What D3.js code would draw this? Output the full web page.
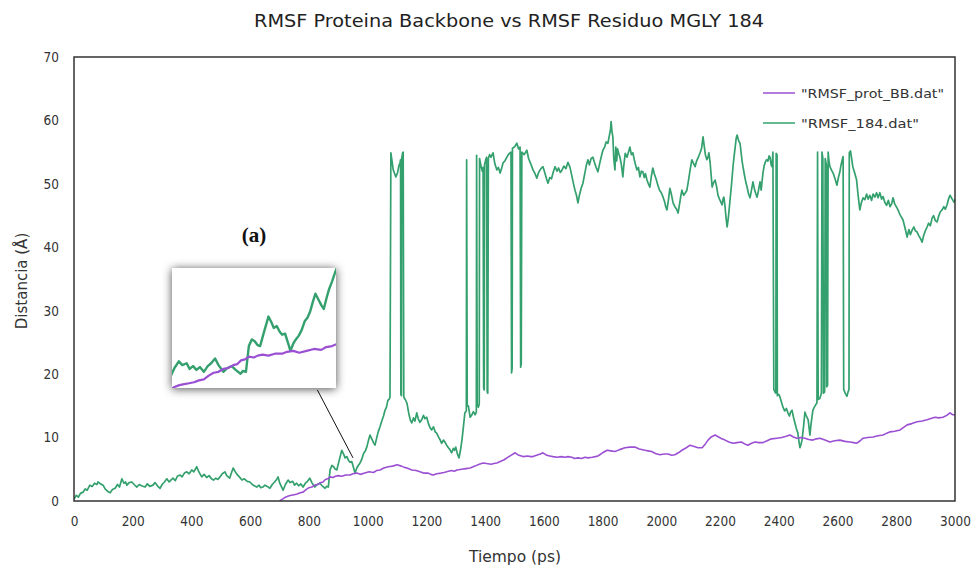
<!DOCTYPE html>
<html>
<head>
<meta charset="utf-8">
<script src="https://cdn.jsdelivr.net/npm/d3@7"></script>
<style>
  html, body { margin: 0; padding: 0; background: #fff; }
  svg { display: block; }
  .tick text { font-family: "DejaVu Sans Condensed", "DejaVu Sans", sans-serif; font-size: 13.5px; fill: #333; }
</style>
</head>
<body>
<svg id="chart" width="974" height="568"></svg>
<script>
// Tick labels
const xTicks = [0, 200, 400, 600, 800, 1000, 1200, 1400, 1600, 1800, 2000, 2200, 2400, 2600, 2800, 3000];
const yTicks = [0, 10, 20, 30, 40, 50, 60, 70];

// Series names
const seriesNames = ['"RMSF_prot_BB.dat"', '"RMSF_184.dat"'];

// RMSF of residue MGLY 184: [time (ps), distance (Å)]
const rmsf184 = [
  [0,0.3],[8,0.9],[15,0.6],[22,1.2],[31,1.4],[38,1.9],[45,1.7],[54,2.5],[62,2.3],[70,2.8],[78,2.6],[82,3.0],[90,2.7],[99,2.5],
  [106,1.9],[115,1.5],[123,1.3],[131,1.8],[140,2.0],[148,2.6],[155,2.2],[163,3.5],[170,2.8],[176,3.0],[180,2.5],[188,2.9],
  [197,3.0],[205,2.6],[214,2.2],[222,2.6],[230,2.4],[242,2.2],[250,2.7],[258,2.3],[269,2.5],[276,2.9],[284,2.4],[293,2.0],
  [300,2.6],[308,3.0],[316,3.5],[324,3.0],[330,3.3],[337,3.6],[345,3.2],[352,3.9],[361,4.1],[368,3.8],[376,4.4],[384,4.6],
  [392,4.3],[401,4.9],[408,4.6],[418,5.4],[424,4.7],[430,4.2],[435,3.8],[443,4.2],[452,3.7],[460,4.0],[468,3.5],[475,3.3],
  [483,3.6],[490,3.4],[497,3.8],[505,4.3],[514,4.6],[520,4.0],[530,3.6],[536,4.4],[542,5.2],[548,4.7],[555,4.2],[563,3.8],
  [572,3.3],[580,3.5],[590,3.1],[599,3.0],[607,2.6],[614,2.4],[622,2.2],[630,2.5],[636,2.1],[643,2.2],[650,2.5],[658,2.3],
  [667,2.0],[675,2.6],[683,3.0],[690,3.4],[695,3.8],[700,2.9],[706,2.3],[712,1.7],[720,2.6],[729,3.3],[736,2.9],[745,3.1],
  [751,2.5],[758,2.8],[765,2.4],[772,2.7],[780,2.2],[788,2.8],[795,3.1],[803,3.6],[810,2.9],[820,2.2],[828,2.6],[837,2.8],
  [845,2.4],[855,2.0],[860,2.3],[866,2.2],
  [872,4.9],[878,5.6],[884,5.4],[890,5.0],[895,4.9],[903,6.4],[912,8.0],[918,7.4],[923,6.8],[929,7.0],[935,6.4],[940,6.1],
  [946,6.2],[951,5.4],[957,4.4],[963,5.2],[968,5.6],[974,6.0],[980,6.6],[986,7.5],[992,7.9],[997,8.5],[1003,9.6],[1008,10.4],
  [1014,9.8],[1020,9.2],[1025,8.8],[1031,10.0],[1036,10.9],[1042,11.7],[1048,12.6],[1054,13.4],[1059,14.3],[1064,14.8],
  [1069,15.9],[1073,16.0],[1076,16.4],
  [1079,54.9],[1083,53.6],[1087,52.2],[1092,51.6],[1096,51.1],[1102,51.8],[1106,52.8],[1110,53.3],[1112,53.8],[1113,16.8],
  [1115,16.6],[1116,54.0],[1119,54.9],[1121,55.0],[1123,16.4],
  [1128,16.0],[1134,15.4],[1140,13.8],[1145,12.8],[1150,12.3],[1156,13.1],[1161,12.6],[1167,13.9],[1172,13.0],[1178,12.4],
  [1184,12.8],[1190,13.5],[1195,13.0],[1201,13.2],[1207,12.2],[1212,11.6],[1218,11.2],[1224,11.7],[1230,10.9],[1235,10.7],
  [1241,10.1],[1246,9.7],[1252,9.1],[1258,9.6],[1263,9.3],[1269,8.8],[1275,8.4],[1280,8.1],[1286,7.6],[1292,8.3],[1296,8.0],
  [1300,8.5],[1305,7.5],[1311,6.8],[1316,8.0],[1321,9.6],[1326,11.7],[1331,13.9],
  [1336,14.2],[1337,53.8],[1339,15.0],[1343,15.0],[1349,13.2],[1355,13.6],[1360,14.1],[1366,13.6],[1370,14.0],[1371,54.5],
  [1373,15.2],[1377,14.8],[1380,15.3],[1381,54.0],[1386,52.8],[1390,52.0],[1393,52.6],[1395,17.8],[1397,17.5],[1398,53.0],
  [1402,53.8],[1405,54.2],[1407,17.2],[1409,17.0],[1411,54.0],[1415,54.6],[1420,54.2],[1427,54.9],[1433,53.2],[1440,52.2],
  [1445,52.6],[1451,51.7],[1456,52.4],[1461,53.3],[1467,53.6],[1474,54.2],[1479,54.6],[1485,54.9],[1488,55.0],[1490,20.2],
  [1492,21.0],[1493,55.6],[1500,55.8],[1508,56.4],[1514,55.5],[1519,55.8],[1521,21.1],[1523,21.6],[1525,55.0],[1533,54.6],
  [1542,55.3],[1548,54.0],[1555,53.2],[1563,52.2],[1570,51.6],[1576,50.9],[1582,51.8],[1590,52.4],[1597,52.7],[1603,51.8],
  [1609,50.8],[1614,50.1],[1620,51.0],[1626,50.8],[1631,51.7],[1638,52.7],[1645,52.0],[1650,52.5],[1656,51.8],[1662,52.2],
  [1668,52.8],[1675,52.4],[1682,53.4],[1689,52.6],[1696,51.1],[1701,50.0],[1706,49.0],[1711,48.2],[1716,47.0],[1722,48.4],
  [1727,49.3],[1733,50.1],[1740,51.8],[1745,53.0],[1750,53.8],[1755,53.0],[1761,54.0],[1767,54.2],[1772,53.4],[1778,52.6],
  [1784,51.9],[1790,53.2],[1796,54.4],[1801,55.3],[1807,55.8],[1812,56.6],[1818,56.4],[1823,57.6],[1827,58.6],[1829,59.8],
  [1832,58.2],[1835,57.4],[1838,54.0],[1842,52.2],[1845,55.8],[1848,53.6],[1851,55.5],[1855,54.8],[1859,54.2],[1864,53.0],
  [1869,51.1],[1872,52.8],[1877,54.8],[1883,54.2],[1888,55.0],[1893,55.8],[1898,54.6],[1903,54.9],[1908,53.8],[1912,53.0],
  [1917,52.2],[1922,52.6],[1927,51.1],[1932,52.0],[1937,51.9],[1942,51.0],[1946,51.6],[1951,50.6],[1956,50.0],[1961,49.5],
  [1966,51.2],[1971,52.5],[1976,51.6],[1982,50.8],[1988,49.8],[1994,49.0],[2000,48.6],[2006,47.9],[2011,47.2],[2015,46.4],
  [2019,45.9],[2024,47.4],[2029,49.3],[2034,48.4],[2040,47.0],[2046,46.4],[2052,46.0],[2057,45.4],[2062,46.8],[2066,48.0],
  [2070,49.0],[2076,48.2],[2082,48.6],[2087,49.0],[2092,50.4],[2098,52.2],[2104,53.8],[2110,53.2],[2115,52.7],[2120,53.6],
  [2126,54.2],[2132,54.9],[2137,55.6],[2142,57.4],[2146,56.0],[2150,54.6],[2155,53.8],[2159,54.2],[2162,54.9],[2166,53.4],
  [2170,51.2],[2173,49.5],[2178,50.2],[2183,50.6],[2188,49.6],[2193,48.2],[2198,47.6],[2202,47.2],[2207,46.7],[2210,47.6],
  [2213,47.9],[2217,46.4],[2220,44.8],[2224,43.2],[2228,44.6],[2231,46.0],[2234,47.5],[2238,49.4],[2241,51.0],[2244,52.7],
  [2248,54.4],[2252,56.0],[2255,57.2],[2258,57.7],[2262,57.0],[2265,56.6],[2268,56.4],[2272,54.8],[2275,53.6],[2278,52.7],
  [2283,51.4],[2288,50.2],[2292,49.5],[2297,48.4],[2302,47.8],[2307,49.0],[2312,50.3],[2317,49.2],[2322,48.4],[2326,47.9],
  [2331,49.0],[2336,50.3],[2340,49.0],[2346,51.7],[2350,52.8],[2353,53.3],[2358,53.8],[2363,53.6],[2367,54.4],[2370,54.2],
  [2374,53.0],[2377,52.7],[2380,55.0],[2383,17.6],[2387,17.2],[2390,17.0],[2391,54.8],[2394,54.6],[2395,16.6],
  [2400,16.8],[2404,16.4],[2409,15.6],[2414,14.8],[2420,14.2],[2426,14.6],[2431,13.9],[2436,13.4],[2440,14.0],[2445,14.3],
  [2450,13.2],[2455,12.3],[2460,11.4],[2465,10.7],[2468,9.6],[2472,8.4],[2476,9.0],[2479,9.6],[2484,11.6],[2489,14.0],
  [2494,13.4],[2500,12.8],[2503,11.6],[2506,10.4],[2510,12.2],[2516,14.3],[2521,14.8],[2526,15.2],[2530,15.5],[2532,55.0],
  [2534,16.0],[2540,16.2],[2545,17.0],[2547,55.0],[2550,54.0],[2552,17.0],[2556,17.2],[2558,54.0],[2562,53.0],[2563,18.0],
  [2566,18.2],[2568,55.0],[2571,53.6],[2574,52.7],[2579,52.2],[2585,51.7],[2590,51.0],[2594,50.4],[2598,49.8],[2603,51.0],
  [2608,51.9],[2612,53.0],[2617,54.0],[2619,54.3],[2621,17.6],[2626,17.0],[2632,16.5],[2636,17.2],[2639,17.6],[2640,54.9],
  [2644,55.2],[2648,54.0],[2652,52.7],[2658,51.8],[2665,50.6],[2670,48.2],[2676,45.9],[2681,47.0],[2687,47.8],[2693,47.5],
  [2699,48.4],[2704,47.6],[2710,48.2],[2716,47.4],[2721,48.4],[2727,47.9],[2733,48.6],[2738,47.8],[2744,48.6],[2750,47.6],
  [2755,48.0],[2761,47.1],[2767,46.6],[2773,47.4],[2779,46.4],[2784,46.8],[2789,47.8],[2795,46.8],[2800,46.4],[2806,45.9],
  [2812,45.2],[2817,44.8],[2823,44.3],[2828,43.4],[2833,42.4],[2837,41.6],[2843,42.8],[2848,42.0],[2854,42.7],[2860,43.2],
  [2865,42.6],[2871,42.4],[2877,41.8],[2882,41.4],[2888,40.8],[2893,41.8],[2899,42.6],[2905,43.2],[2910,43.8],[2916,43.4],
  [2922,44.6],[2927,45.0],[2933,44.2],[2939,44.0],[2945,45.0],[2950,45.6],[2956,45.9],[2962,46.4],[2967,46.0],[2973,46.7],
  [2978,47.6],[2983,48.2],[2988,47.8],[2993,47.4],[2997,47.1],[3000,47.6]
];

// RMSF of the protein backbone: [time (ps), distance (Å)]
const rmsfProtBB = [
  [700,0.0],[710,0.3],[720,0.6],[730,0.8],[740,0.9],[750,1.0],[760,1.1],[770,1.3],[780,1.4],[790,1.8],[800,2.1],[810,2.2],
  [820,2.5],[830,2.6],[840,2.9],[848,3.0],[856,3.4],[864,3.5],[872,3.8],[882,3.7],[890,3.9],[900,4.0],[912,3.9],[925,4.1],
  [940,4.1],[950,4.3],[963,4.4],[975,4.2],[990,4.4],[1005,4.6],[1020,4.5],[1030,4.8],[1042,4.9],[1055,5.2],[1070,5.4],
  [1085,5.5],[1100,5.7],[1115,5.5],[1125,5.3],[1134,5.2],[1150,4.9],[1165,4.8],[1178,4.6],[1190,4.4],[1205,4.4],[1215,4.2],
  [1223,4.1],[1235,4.3],[1250,4.4],[1260,4.5],[1269,4.6],[1285,4.8],[1295,4.7],[1304,4.9],[1320,5.0],[1335,5.1],[1349,5.2],
  [1365,5.5],[1380,5.8],[1393,6.0],[1405,5.9],[1420,5.8],[1430,5.9],[1440,6.0],[1455,6.3],[1465,6.5],[1474,6.8],[1488,7.2],
  [1502,7.6],[1515,7.2],[1529,7.0],[1545,7.1],[1555,7.0],[1563,7.0],[1575,7.2],[1588,7.4],[1597,7.6],[1610,7.2],[1620,7.1],
  [1631,7.0],[1645,6.9],[1660,7.0],[1672,6.9],[1682,7.0],[1695,6.9],[1705,6.7],[1716,6.8],[1728,6.7],[1740,6.9],[1750,6.8],
  [1765,6.9],[1775,7.0],[1784,7.1],[1800,7.6],[1815,8.0],[1828,7.9],[1842,7.8],[1858,8.1],[1876,8.4],[1892,8.5],[1910,8.5],
  [1925,8.2],[1944,8.0],[1955,7.9],[1967,7.8],[1980,7.5],[1995,7.3],[2010,7.4],[2023,7.4],[2035,7.2],[2046,7.3],[2058,7.6],
  [2070,8.0],[2085,8.4],[2098,8.8],[2112,8.6],[2125,8.4],[2139,8.4],[2150,9.0],[2159,9.6],[2170,10.1],[2183,10.4],[2195,10.1],
  [2206,9.8],[2217,9.6],[2230,9.3],[2244,9.1],[2258,9.2],[2272,9.3],[2284,9.0],[2295,8.8],[2307,9.1],[2319,9.3],[2332,9.2],
  [2346,9.2],[2360,9.5],[2375,9.8],[2394,9.9],[2410,10.0],[2425,10.2],[2438,10.4],[2450,10.1],[2461,9.9],[2475,10.0],
  [2489,9.9],[2502,9.7],[2516,9.6],[2528,9.8],[2540,9.9],[2557,9.6],[2574,9.3],[2590,9.5],[2608,9.6],[2625,9.4],[2642,9.3],
  [2655,9.2],[2665,9.1],[2677,9.5],[2687,9.9],[2703,10.0],[2721,10.1],[2738,10.3],[2755,10.4],[2768,10.7],[2779,10.9],
  [2795,11.0],[2813,11.2],[2825,11.6],[2837,12.0],[2853,12.2],[2871,12.5],[2888,12.6],[2905,12.8],[2918,13.0],[2932,13.2],
  [2945,13.1],[2959,13.2],[2972,13.5],[2983,13.9],[2992,13.6],[3000,13.6]
];

// Zoomed window shown in the inset panel
const insetTime = [715, 1050];
const insetDist = [0.5, 13.1];
// Point the inset refers to
const insetTarget = [950, 6.8];

const colorProt = "#9b50d3";
const colorRes = "#33a06d";

const svg = d3.select("#chart");
const W = 974, H = 568;
const plot = { left: 74, right: 955, top: 57, bottom: 501 };
const sans = "'DejaVu Sans', sans-serif";

svg.append("rect").attr("width", W).attr("height", H).attr("fill", "#fff");

const x = d3.scaleLinear().domain([0, 3000]).range([plot.left, plot.right]);
const y = d3.scaleLinear().domain([0, 70]).range([plot.bottom, plot.top]);

const defs = svg.append("defs");
defs.append("clipPath").attr("id", "plotClip")
  .append("rect").attr("x", plot.left).attr("y", plot.top)
  .attr("width", plot.right - plot.left).attr("height", plot.bottom - plot.top);

const shadow = defs.append("filter").attr("id", "insetShadow")
  .attr("x", "-30%").attr("y", "-30%").attr("width", "160%").attr("height", "160%");
shadow.append("feDropShadow").attr("dx", 0).attr("dy", 1).attr("stdDeviation", 5)
  .attr("flood-color", "#000").attr("flood-opacity", 0.7);

// Title
svg.append("text")
  .attr("x", 509).attr("y", 27)
  .attr("text-anchor", "middle")
  .attr("font-family", sans)
  .attr("font-size", 18)
  .attr("textLength", 510).attr("lengthAdjust", "spacingAndGlyphs")
  .attr("fill", "#222")
  .text("RMSF Proteina Backbone vs RMSF Residuo MGLY 184");

// Axes
const xAxis = d3.axisBottom(x).tickValues(xTicks).tickSize(0).tickPadding(15).tickFormat(d3.format("d"));
const yAxis = d3.axisLeft(y).tickValues(yTicks).tickSize(0).tickPadding(15).tickFormat(d3.format("d"));

svg.append("g").attr("transform", `translate(0,${plot.bottom})`).call(xAxis)
  .call(g => g.select(".domain").remove());
svg.append("g").attr("transform", `translate(${plot.left},0)`).call(yAxis)
  .call(g => g.select(".domain").remove());

// Axis titles
svg.append("text")
  .attr("x", 515).attr("y", 562)
  .attr("text-anchor", "middle")
  .attr("font-family", sans)
  .attr("font-size", 15.5).attr("fill", "#333")
  .text("Tiempo (ps)");
svg.append("text")
  .attr("transform", "translate(27,281) rotate(-90)")
  .attr("text-anchor", "middle")
  .attr("font-family", sans)
  .attr("font-size", 15).attr("fill", "#333")
  .text("Distancia (Å)");

// Series lines
const line = d3.line().x(d => x(d[0])).y(d => y(d[1]));
const plotG = svg.append("g").attr("clip-path", "url(#plotClip)");
plotG.append("path").datum(rmsf184)
  .attr("fill", "none").attr("stroke", colorRes).attr("stroke-width", 1.7)
  .attr("stroke-linejoin", "round").attr("d", line);
plotG.append("path").datum(rmsfProtBB)
  .attr("fill", "none").attr("stroke", colorProt).attr("stroke-width", 1.6)
  .attr("stroke-linejoin", "round").attr("d", line);

// Plot frame
svg.append("rect")
  .attr("x", plot.left).attr("y", plot.top)
  .attr("width", plot.right - plot.left).attr("height", plot.bottom - plot.top)
  .attr("fill", "none").attr("stroke", "#333").attr("stroke-width", 1.5);

// Legend
const legend = svg.append("g").attr("font-family", sans)
  .attr("font-size", 13).attr("fill", "#333");
[colorProt, colorRes].forEach((c, i) => {
  const ly = 93 + i * 30;
  legend.append("line").attr("x1", 763).attr("x2", 795).attr("y1", ly).attr("y2", ly)
    .attr("stroke", c).attr("stroke-width", 1.5);
  legend.append("text").attr("x", 801).attr("y", ly + 4.5)
    .attr("textLength", i === 0 ? 143 : 118).attr("lengthAdjust", "spacingAndGlyphs")
    .text(seriesNames[i]);
});

// Inset: magnified view of the early part of both series
const inset = { left: 172, right: 336, top: 268, bottom: 388 };
const xi = d3.scaleLinear().domain(insetTime).range([inset.left, inset.right]);
const yi = d3.scaleLinear().domain(insetDist).range([inset.bottom, inset.top]);

// Pointer from the inset to the region it magnifies
svg.append("line")
  .attr("x1", xi(1012)).attr("y1", inset.bottom + 2)
  .attr("x2", x(insetTarget[0])).attr("y2", y(insetTarget[1]))
  .attr("stroke", "#111").attr("stroke-width", 1);

svg.append("rect")
  .attr("x", inset.left).attr("y", inset.top)
  .attr("width", inset.right - inset.left).attr("height", inset.bottom - inset.top)
  .attr("fill", "#fff").attr("filter", "url(#insetShadow)");

defs.append("clipPath").attr("id", "insetClip")
  .append("rect").attr("x", inset.left).attr("y", inset.top)
  .attr("width", inset.right - inset.left).attr("height", inset.bottom - inset.top);

const lineI = d3.line().x(d => xi(d[0])).y(d => yi(d[1]));
const insetG = svg.append("g").attr("clip-path", "url(#insetClip)");
insetG.append("path").datum(rmsf184)
  .attr("fill", "none").attr("stroke", colorRes).attr("stroke-width", 2.4)
  .attr("stroke-linejoin", "round").attr("d", lineI);
insetG.append("path").datum(rmsfProtBB)
  .attr("fill", "none").attr("stroke", colorProt).attr("stroke-width", 2.2)
  .attr("stroke-linejoin", "round").attr("d", lineI);

// Panel label
svg.append("text")
  .attr("x", 254).attr("y", 242)
  .attr("text-anchor", "middle")
  .attr("font-family", "'Liberation Serif', 'Times New Roman', serif")
  .attr("font-weight", "bold").attr("font-size", 21).attr("fill", "#111")
  .text("(a)");
</script>
</body>
</html>
